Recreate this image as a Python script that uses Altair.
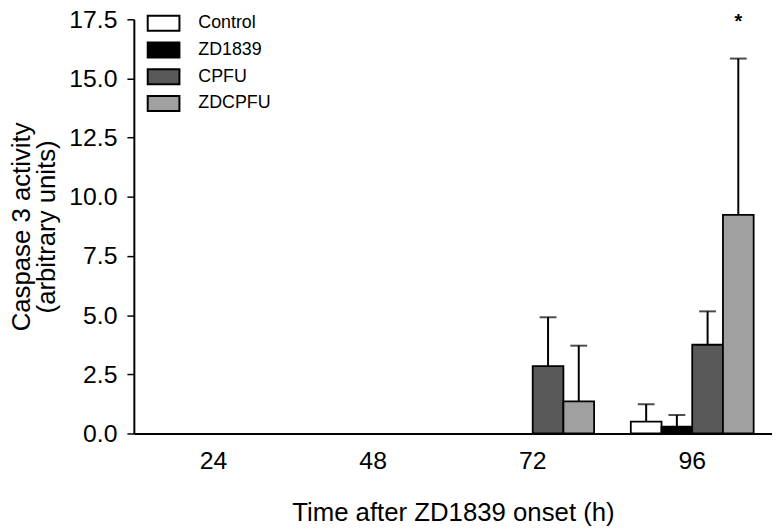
import altair as alt
import pandas as pd

times = ["72", "72", "96", "96", "96", "96"]
groups = ["CPFU", "ZDCPFU", "Control", "ZD1839", "CPFU", "ZDCPFU"]
means = [2.85, 1.36, 0.5, 0.29, 3.75, 9.24]
uppers = [4.91, 3.71, 1.24, 0.78, 5.16, 15.84]

time_domain = ["24", "48", "72", "96"]
group_domain = ["Control", "ZD1839", "CPFU", "ZDCPFU"]
group_colors = ["#ffffff", "#000000", "#595959", "#a0a0a0"]

star_time = ["96"]
star_group = ["ZDCPFU"]
star_y = [17.12]

df = pd.DataFrame({"time": times, "group": groups, "mean": means, "upper": uppers})
star = pd.DataFrame({"time": star_time, "group": star_group, "y": star_y, "label": ["*"]})

x = alt.X("time:N", scale=alt.Scale(domain=time_domain, paddingInner=0.23, paddingOuter=0.115),
          axis=alt.Axis(title="Time after ZD1839 onset (h)", labelAngle=0, ticks=False,
                        labelPadding=15, titlePadding=27, labelFontSize=25, titleFontSize=26))
xo = alt.XOffset("group:N", scale=alt.Scale(domain=group_domain, paddingInner=0, paddingOuter=0))
yscale = alt.Scale(domain=[0, 17.5], nice=False)

bars = alt.Chart(df).mark_bar(stroke="black", strokeWidth=1.8).encode(
    x=x, xOffset=xo,
    y=alt.Y("mean:Q", scale=yscale,
            axis=alt.Axis(title=["Caspase 3 activity", "(arbitrary units)"],
                          values=[0, 2.5, 5, 7.5, 10, 12.5, 15, 17.5], format=".1f",
                          grid=False, tickSize=7, labelPadding=10, titlePadding=9,
                          labelFontSize=25, titleFontSize=26, titleLineHeight=26)),
    color=alt.Color("group:N", scale=alt.Scale(domain=group_domain, range=group_colors),
                    legend=alt.Legend(title=None, orient="none", legendX=21, legendY=-5,
                                      symbolType="M-2,-0.94H2V0.94H-2Z", symbolSize=256,
                                      symbolStrokeColor="black", symbolStrokeWidth=2,
                                      labelFontSize=18, labelColor="black", rowPadding=3,
                                      labelOffset=26)),
)

err = alt.Chart(df).mark_rule(color="black", strokeWidth=2).encode(
    x=x, xOffset=xo, y=alt.Y("mean:Q", scale=yscale), y2="upper:Q")

caps = alt.Chart(df).mark_tick(color="black", thickness=2, size=17, orient="horizontal").encode(
    x=x, xOffset=xo, y=alt.Y("upper:Q", scale=yscale))

stars = alt.Chart(star).mark_text(fontSize=20, baseline="alphabetic", color="black", fontWeight="bold").encode(
    x=x, xOffset=xo, y=alt.Y("y:Q", scale=yscale), text="label:N")

chart = alt.layer(bars, err, caps, stars).properties(
    width=644, height=418,
    autosize=alt.AutoSizeParams(type="none"),
    padding={"left": 127, "top": 9, "right": 0, "bottom": 95},
).configure_view(stroke=None).configure_axis(
    domainColor="black", domainWidth=2, tickColor="black", tickWidth=1.5,
    labelColor="black", titleColor="black", labelFont="Liberation Sans", titleFont="Liberation Sans",
    titleFontWeight="normal",
).configure_legend(labelFont="Liberation Sans")

chart.save("out.html", embed_options={"renderer": "svg", "actions": False})
